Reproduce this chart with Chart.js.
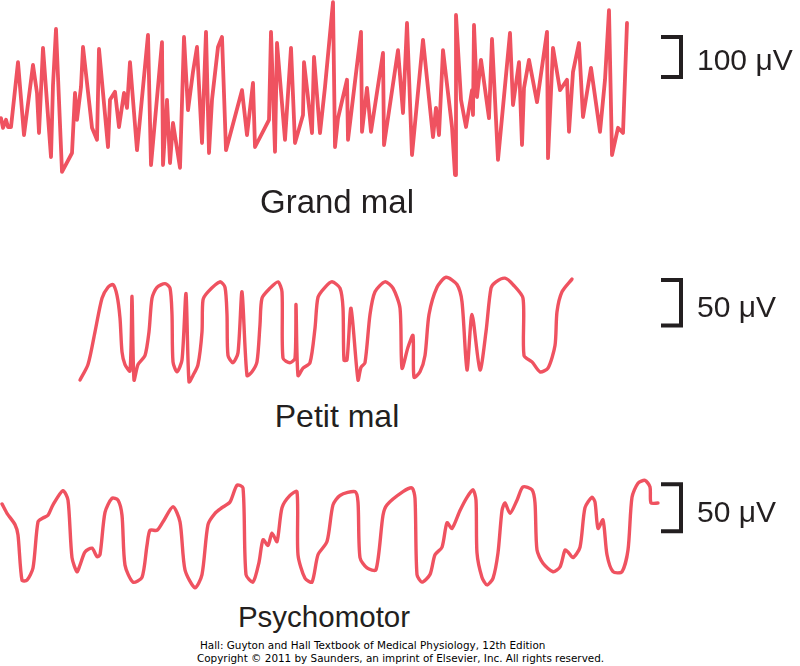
<!DOCTYPE html>
<html>
<head>
<meta charset="utf-8">
<script src="https://cdn.jsdelivr.net/npm/chart.js@4.4.1/dist/chart.umd.min.js"></script>
<style>
  body { margin: 0; background: #fff; width: 800px; height: 666px; position: relative; overflow: hidden;
         font-family: "Liberation Sans", Arial, sans-serif; color: #231f20; }
  canvas { position: absolute; left: 0; }
  .lbl { position: absolute; font-size: 32px; line-height: 32px; white-space: nowrap; transform: translateX(-50%); }
  .uv { position: absolute; left: 697px; font-size: 30px; line-height: 30px; white-space: nowrap; }
  .credit { position: absolute; font-family: "DejaVu Sans", Verdana, sans-serif; font-size: 10.4px; line-height: 12px; white-space: nowrap; color: #000; }
</style>
</head>
<body>
<canvas id="grandMal" width="800" height="190" style="top:0px"></canvas>
<canvas id="petitMal" width="800" height="120" style="top:270px"></canvas>
<canvas id="psychomotor" width="800" height="130" style="top:470px"></canvas>

<div class="lbl" style="left:337px; top:186px; font-size:33px">Grand mal</div>
<div class="lbl" style="left:337px; top:400px">Petit mal</div>
<div class="lbl" style="left:324px; top:601px; font-size:29.5px">Psychomotor</div>

<div class="uv" style="top:45px">100 μV</div>
<div class="uv" style="top:292px">50 μV</div>
<div class="uv" style="top:497px">50 μV</div>

<div class="credit" style="left:200px; top:639px">Hall: Guyton and Hall Textbook of Medical Physiology, 12th Edition</div>
<div class="credit" style="left:197px; top:652px">Copyright © 2011 by Saunders, an imprint of Elsevier, Inc. All rights reserved.</div>

<script>
// EEG traces: sample time (arbitrary units) and potential in μV
const gmTime = [1, 3, 6, 8, 11, 18, 24, 33, 37, 39, 43, 51, 53, 56, 62, 72, 75, 77, 81, 83, 92, 97, 99, 108, 110, 115, 119, 124, 127, 130,
  137, 148, 151, 162, 163, 167, 170, 173, 180, 184, 188, 193, 197, 202, 206, 209, 212, 218, 222, 226, 242, 247, 253, 255, 269, 271, 275, 277, 285, 291,
  295, 303, 304, 312, 314, 320, 325, 333, 335, 338, 347, 348, 361, 362, 367, 371, 383, 384, 398, 403, 407, 412, 423, 433, 436, 439, 443, 452, 455, 456,
  461, 466, 472, 473, 474, 477, 481, 489, 492, 498, 510, 513, 519, 522, 524, 529, 537, 547, 548, 553, 560, 567, 569, 573, 579, 583, 591, 600, 605, 609,
  612, 618, 623, 627];
const gmUV = [-58, -82, -62, -80, -80, 82, -100, 75, 5, -95, 118, -155, 25, 165, -192, -145, 5, -62, 20, 120, -82, -112, 115, -130, -12, 8, -80, 5, -32, 82,
  -138, 150, -175, 132, -175, -12, -170, -70, -182, 145, -38, 58, 120, -120, 158, -145, -12, 120, 145, -138, 12, -100, 30, -130, -62, 158, -142, 130, -112, 118,
  -120, -50, 82, -95, 95, -95, 20, 232, -130, -58, 38, -112, 158, -92, 18, -92, 105, -125, 112, -45, 180, -150, 138, -105, -32, -100, 112, -80, -200, 200,
  -12, -80, 12, -50, 175, -5, 88, -58, 140, -162, 155, -25, 82, -125, 18, 88, -18, 158, -158, 118, 12, 38, -92, 58, 130, -55, 68, -92, 38, 212,
  -150, -82, -95, 180];

const pmTime = [80, 88, 95, 102, 108, 113, 117, 120, 122, 125, 130, 132, 134, 138, 145, 149, 152, 157, 165, 170, 172, 173, 177, 182, 186, 189, 193, 198, 202, 203,
  208, 220, 225, 227, 228, 233, 238, 242, 247, 252, 257, 260, 262, 270, 278, 282, 283, 290, 295, 296, 298, 303, 310, 315, 318, 325, 332, 340, 343, 344,
  347, 351, 358, 361, 365, 370, 375, 385, 393, 400, 402, 408, 413, 414, 420, 425, 429, 437, 446, 457, 462, 467, 472, 480, 486, 491, 496, 505, 513, 523,
  524, 532, 540, 548, 555, 557, 562, 572];
const pmUV = [-55, -38, -2, 35, 47, 50, 38, 13, -24, -38, -45, 37, -55, -38, -28, -2, 35, 47, 51, 46, 17, -35, -46, -33, 40, -57, -50, -38, -2, 33,
  42, 53, 47, 17, -28, -36, -25, 42, -50, -46, -35, 6, 35, 46, 53, 42, -31, -36, -31, 28, -50, -42, -36, 2, 36, 47, 53, 46, 24, -33,
  -33, 24, -55, -41, -36, 17, 42, 53, 46, 24, -42, -19, -6, -52, -46, -28, 17, 47, 58, 50, 31, -44, 17, -44, -2, 46, 53, 57, 50, 35,
  -28, -35, -46, -42, -17, 20, 42, 56];

const psyTime = [2, 7, 15, 18, 22, 27, 33, 38, 43, 48, 53, 63, 68, 72, 77, 80, 85, 92, 97, 100, 105, 112, 118, 122, 125, 133, 142, 147, 150, 157,
  163, 173, 180, 185, 195, 202, 208, 215, 222, 230, 237, 243, 246, 253, 259, 263, 268, 272, 277, 282, 290, 297, 298, 305, 312, 318, 327, 333, 340, 355,
  358, 360, 367, 376, 383, 387, 403, 412, 415, 417, 422, 430, 435, 442, 447, 452, 460, 467, 473, 476, 477, 482, 487, 493, 498, 502, 505, 510, 517, 523,
  532, 535, 537, 543, 553, 560, 565, 568, 573, 580, 585, 592, 595, 598, 603, 607, 613, 622, 628, 632, 638, 645, 650, 651, 658];
const psyUV = [33, 23, 11, 0, -48, -48, -35, 14, 18, 21, 32, 47, 37, -24, -39, -32, -18, -14, -23, -21, 24, 39, 37, 21, -32, -50, -45, -11, 5, 5,
  14, 30, 14, -37, -56, -42, 11, 23, 29, 35, 53, 50, -42, -50, -29, -5, -11, 2, -7, 29, 42, 46, -21, -46, -50, -21, -7, 32, 42, 46,
  35, -24, -35, -37, 21, 32, 46, 50, 39, -42, -50, -42, -21, -13, 13, 7, 26, 40, 48, 37, -19, -45, -53, -46, -19, 26, 34, 23, 37, 51,
  48, 34, -16, -30, -39, -34, -16, -18, -24, -13, 29, 40, 35, 7, 16, -21, -39, -39, -16, 40, 55, 58, 51, 34, 34];

const traceColor = '#ef5260';

function series(t, v) {
  return t.map((x, i) => ({ x: x, y: v[i] }));
}

// calibration bracket drawn through the chart's own y scale
const scaleBar = {
  id: 'scaleBar',
  afterDraw(chart, args, opts) {
    const ctx = chart.ctx;
    const yTop = chart.scales.y.getPixelForValue(opts.from + opts.size);
    const yBot = chart.scales.y.getPixelForValue(opts.from);
    const xr = chart.scales.x.getPixelForValue(opts.at);
    ctx.save();
    ctx.strokeStyle = '#231f20';
    ctx.lineWidth = 4;
    ctx.lineJoin = 'miter';
    ctx.beginPath();
    ctx.moveTo(xr - 20, yTop);
    ctx.lineTo(xr, yTop);
    ctx.lineTo(xr, yBot);
    ctx.lineTo(xr - 20, yBot);
    ctx.stroke();
    ctx.restore();
  }
};

function makeChart(id, t, v, yRange, width, tension, bar) {
  new Chart(document.getElementById(id), {
    type: 'line',
    data: {
      datasets: [{
        data: series(t, v),
        borderColor: traceColor,
        borderWidth: width,
        borderJoinStyle: 'round',
        borderCapStyle: 'round',
        pointRadius: 0,
        tension: tension,
        fill: false,
        clip: false
      }]
    },
    options: {
      responsive: false,
      animation: false,
      layout: { padding: 0 },
      scales: {
        x: { type: 'linear', min: 0, max: 800, display: false },
        y: { min: -yRange, max: yRange, display: false }
      },
      plugins: {
        legend: { display: false },
        tooltip: { enabled: false },
        scaleBar: bar
      }
    },
    plugins: [scaleBar]
  });
}

makeChart('grandMal', gmTime, gmUV, 237.5, 3.8, 0, { from: 45, size: 100, at: 681 });
makeChart('petitMal', pmTime, pmUV, 66, 3.4, 0.25, { from: 5, size: 50, at: 681 });
makeChart('psychomotor', psyTime, psyUV, 69, 3.4, 0.25, { from: 4, size: 50, at: 681 });
</script>
</body>
</html>
